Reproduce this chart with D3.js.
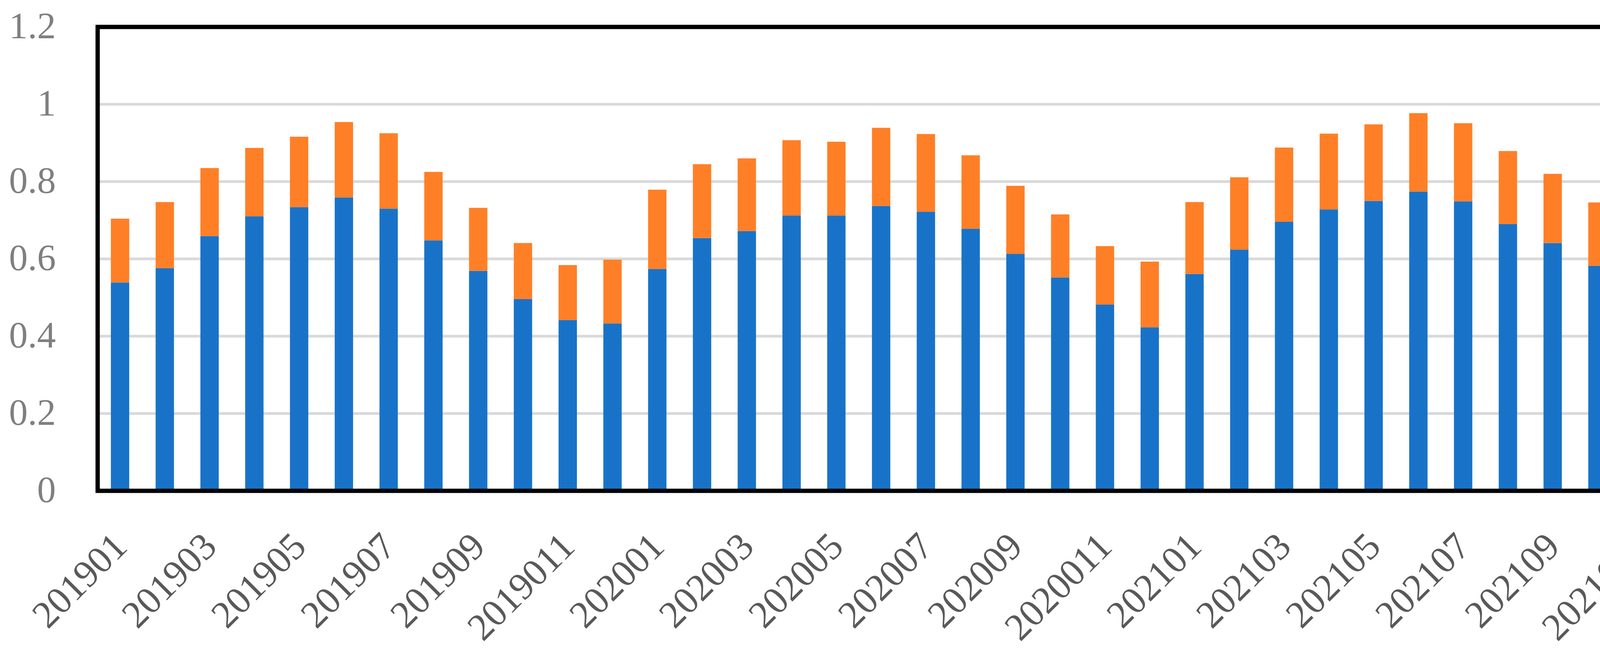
<!DOCTYPE html>
<html>
<head>
<meta charset="utf-8">
<script src="https://cdn.jsdelivr.net/npm/d3@7/dist/d3.min.js"></script>
<style>
  body { margin:0; background:white; }
  .ylab text { fill:#7f7f7f; }
  .xlab text { fill:#595959; }
</style>
</head>
<body>
<div id="chart"></div>
<script>
// categories (the 11th month is labelled "...011" in the source)
var months = ["201901","201902","201903","201904","201905","201906","201907","201908","201909","201910","2019011","201912",
              "202001","202002","202003","202004","202005","202006","202007","202008","202009","202010","2020011","202012",
              "202101","202102","202103","202104","202105","202106","202107","202108","202109","202110","2021011","202112"];
// blue (lower) segment
var lower = [0.539,0.576,0.659,0.710,0.734,0.759,0.730,0.648,0.569,0.496,0.442,0.433,
             0.574,0.654,0.672,0.712,0.712,0.737,0.722,0.678,0.613,0.552,0.482,0.423,
             0.561,0.624,0.696,0.728,0.750,0.774,0.749,0.690,0.641,0.582,0.519,0.478];
// orange (upper) segment
var upper = [0.165,0.171,0.176,0.177,0.182,0.195,0.195,0.177,0.163,0.145,0.142,0.165,
             0.205,0.191,0.188,0.195,0.191,0.202,0.201,0.190,0.176,0.163,0.151,0.170,
             0.186,0.187,0.192,0.196,0.198,0.203,0.202,0.189,0.179,0.164,0.156,0.165];
var yTicks = [0, 0.2, 0.4, 0.6, 0.8, 1, 1.2];
var colors = ["#1873c8", "#ff7f27"];

var W = 4408, H = 1680;
var plotL = 250, plotR = 4376, plotT = 69, plotB = 1257;
var font = "'Palatino Linotype','Book Antiqua',Palatino,'Liberation Serif',serif";

var svg = d3.select('#chart').append('svg')
  .attr('width', W)
  .attr('height', H)
  .style('display', 'block');

var x = d3.scaleBand().domain(months).range([plotL, plotR]).paddingInner(0.59).paddingOuter(0.295);
var y = d3.scaleLinear().domain([0, 1.2]).range([plotB, plotT]);

// gridlines
svg.append('g').selectAll('line')
  .data(yTicks.filter(function(d) { return d > 0 && d < 1.2; }))
  .enter().append('line')
    .attr('x1', plotL).attr('x2', plotR)
    .attr('y1', function(d) { return y(d); })
    .attr('y2', function(d) { return y(d); })
    .attr('stroke', '#d9d9d9')
    .attr('stroke-width', 7);

// stacked bars
var table = months.map(function(m, i) { return {month:m, a:lower[i], b:upper[i]}; });
var stacked = d3.stack().keys(['a', 'b'])(table);

svg.append('g').selectAll('g')
  .data(stacked)
  .enter().append('g')
    .attr('fill', function(d, i) { return colors[i]; })
  .selectAll('rect')
  .data(function(d) { return d; })
  .enter().append('rect')
    .attr('x', function(d) { return x(d.data.month); })
    .attr('width', x.bandwidth())
    .attr('y', function(d) { return y(d[1]); })
    .attr('height', function(d) { return y(d[0]) - y(d[1]); });

// y axis labels
var yAxis = svg.append('g')
  .attr('class', 'ylab')
  .attr('transform', 'translate(' + plotL + ',0)')
  .call(d3.axisLeft(y).tickValues(yTicks).tickSize(0).tickPadding(107).tickFormat(d3.format('~g')));
yAxis.select('.domain').remove();
yAxis.selectAll('text')
  .attr('font-family', font)
  .attr('font-size', 96)
  .attr('dy', '0.3em');

// x axis labels, every other month, rotated
var xAxis = svg.append('g')
  .attr('class', 'xlab')
  .attr('transform', 'translate(0,' + plotB + ')')
  .call(d3.axisBottom(x).tickValues(months.filter(function(d, i) { return i % 2 == 0; })).tickSize(0));
xAxis.select('.domain').remove();
xAxis.selectAll('text')
  .attr('font-family', font)
  .attr('font-size', 98)
  .attr('text-anchor', 'end')
  .attr('x', 0).attr('y', 0).attr('dy', 0)
  .attr('transform', 'translate(23,148) rotate(-45)');

// frame
svg.append('rect')
  .attr('x', plotL).attr('y', plotT)
  .attr('width', plotR - plotL).attr('height', plotB - plotT)
  .attr('fill', 'none')
  .attr('stroke', 'black')
  .attr('stroke-width', 11);
</script>
</body>
</html>
